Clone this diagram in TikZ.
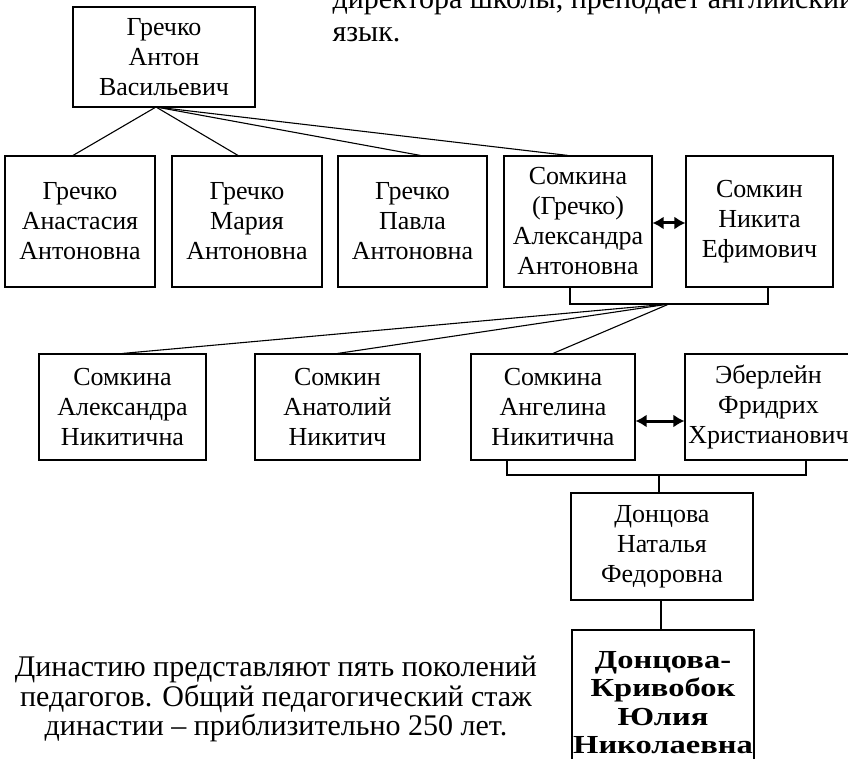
\documentclass[tikz,border=0pt]{standalone}
\usepackage{fontspec}
\setmainfont{Liberation Serif}
\newfontfamily\widebold{Liberation Serif}[FakeStretch=1.25]
\usepackage{tikz}
\usetikzlibrary{arrows.meta}

\tikzset{
	person/.style={draw, line width=1.1pt, inner sep=0pt, align=center, font=\fontsize{26}{30}\selectfont},
	link/.style={line width=1.1pt},
	marriage/.style={{Latex[length=11pt,width=13pt]}-{Latex[length=11pt,width=13pt]}, line width=3pt}
}

\begin{document}
\begin{tikzpicture}[x=1pt,y=-1pt]

		\clip (0,0) rectangle (848,759);

		\node[anchor=base west, font=\fontsize{30}{33}\selectfont] (noteA) at (329,9) {директора школы, преподает английский};
		\node[anchor=base west, font=\fontsize{30}{33}\selectfont] (noteB) at (329,42) {язык.};

		\node[person, minimum width=182pt, minimum height=100pt] (grAnton) at (164,57) {Гречко\\Антон\\Васильевич};

		\node[person, minimum width=150pt, minimum height=131pt] (grAnast) at (80,221.5) {Гречко\\Анастасия\\Антоновна};
		\node[person, minimum width=150pt, minimum height=131pt] (grMaria) at (247,221.5) {Гречко\\Мария\\Антоновна};
		\node[person, minimum width=149pt, minimum height=131pt] (grPavla) at (412.5,221.5) {Гречко\\Павла\\Антоновна};
		\node[person, minimum width=148pt, minimum height=131pt] (skAlexA) at (578,221.5) {Сомкина\\(Гречко)\\Александра\\Антоновна};
		\node[person, minimum width=147pt, minimum height=131pt] (skNikita) at (759.5,221.5) {Сомкин\\Никита\\Ефимович};

		\node[person, minimum width=167pt, minimum height=106pt] (skAlexN) at (122.5,407) {Сомкина\\Александра\\Никитична};
		\node[person, minimum width=165pt, minimum height=106pt] (skAnat) at (337.5,407) {Сомкин\\Анатолий\\Никитич};
		\node[person, minimum width=164pt, minimum height=106pt] (skAngel) at (553,407) {Сомкина\\Ангелина\\Никитична};
		\node[person, minimum width=167pt, minimum height=106pt] (ebFrid) at (768.5,407) {Эберлейн\\Фридрих\\Христианович};

		\node[person, minimum width=182pt, minimum height=107pt] (dnNatal) at (662,546.5) {Донцова\\Наталья\\Федоровна};
		\node[person, minimum width=182pt, minimum height=145pt, font=\fontsize{26}{28.5}\selectfont\widebold\bfseries] (dnJulia) at (663,702.5) {Донцова-\\Кривобок\\Юлия\\Николаевна};

		\coordinate (grFork) at (156,107);
		\coordinate (skFork) at (669,304);
		\coordinate (ebFork) at (659,475);

		\draw[link] (grFork) -- ([xshift=-7pt]grAnast.north);
		\draw[link] (grFork) -- ([xshift=-9pt]grMaria.north);
		\draw[link] (grFork) -- ([xshift=8pt]grPavla.north);
		\draw[link] (grFork) -- ([xshift=-10pt]skAlexA.north);

		\draw[marriage] ([yshift=-1.5pt]skAlexA.east) -- ([yshift=-1.5pt]skNikita.west);
		\draw[link] ([xshift=-8pt]skAlexA.south) |- (skFork) -| ([xshift=8.5pt]skNikita.south);

		\draw[link] (skFork) -- (skAlexN.north);
		\draw[link] (skFork) -- (skAnat.north);
		\draw[link] (skFork) -- (skAngel.north);

		\draw[marriage] ([yshift=-14pt]skAngel.east) -- ([yshift=-14pt]ebFrid.west);
		\draw[link] ([xshift=-46pt]skAngel.south) |- (ebFork) -| ([xshift=37.5pt]ebFrid.south);
		\draw[link] (ebFork) -- (ebFork |- dnNatal.north);
		\draw[link] ([xshift=-1pt]dnNatal.south) -- ([xshift=-1pt]dnNatal.south |- dnJulia.north);

		\node[align=center, font=\fontsize{30}{29.5}\selectfont] (summary) at (276,699) {Династию представляют пять поколений\\педагогов. Общий педагогический стаж\\династии -- приблизительно 250 лет.};
	\end{tikzpicture}
\end{document}
